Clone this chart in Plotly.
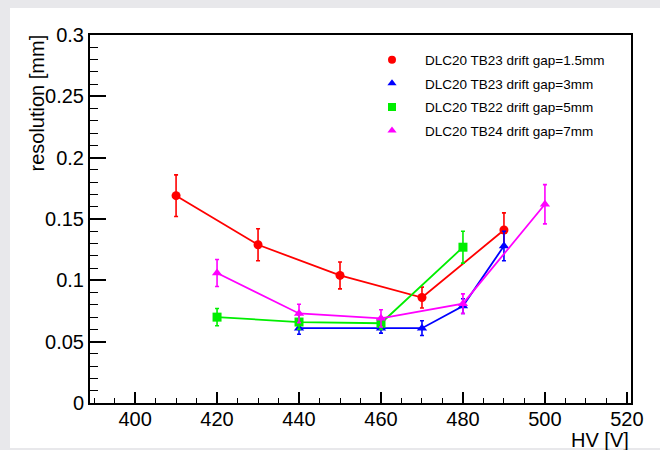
import plotly.graph_objects as go

# ---- data ----
hv_15 = [410, 430, 450, 470, 490]
res_15 = [0.169, 0.129, 0.104, 0.086, 0.141]
err_15 = [0.017, 0.013, 0.011, 0.0085, 0.014]

hv_3 = [440, 460, 470, 480, 490]
res_3 = [0.061, 0.061, 0.061, 0.079, 0.128]
err_3 = [0.005, 0.004, 0.006, 0.006, 0.012]

hv_5 = [420, 440, 460, 480]
res_5 = [0.070, 0.066, 0.065, 0.127]
err_5 = [0.007, 0.006, 0.005, 0.013]

hv_7 = [420, 440, 460, 480, 500]
res_7 = [0.106, 0.073, 0.069, 0.081, 0.162]
err_7 = [0.011, 0.0075, 0.007, 0.008, 0.016]

labels = ["DLC20 TB23 drift gap=1.5mm", "DLC20 TB23 drift gap=3mm",
          "DLC20 TB22 drift gap=5mm", "DLC20 TB24 drift gap=7mm"]

series = [
    (hv_15, res_15, err_15, "#ff0000", "circle"),
    (hv_3, res_3, err_3, "#0000ff", "triangle-up"),
    (hv_5, res_5, err_5, "#00ee00", "square"),
    (hv_7, res_7, err_7, "#ff00ff", "triangle-up"),
]

FONT = "Liberation Sans, Arial, Helvetica, sans-serif"

fig = go.Figure()
for (x, y, e, c, sym), lab in zip(series, labels):
    fig.add_trace(go.Scatter(
        x=x, y=y, mode="lines+markers", showlegend=False,
        line=dict(color=c, width=1.8),
        marker=dict(color=c, symbol=sym, size=9),
        error_y=dict(type="data", array=e, color=c, thickness=1.6, width=2),
    ))
for (x, y, e, c, sym), lab in zip(series, labels):
    fig.add_trace(go.Scatter(
        x=[None], y=[None], mode="markers", name=lab, legendgroup=lab,
        marker=dict(color=c, symbol=sym, size=8),
    ))

# plot area in pixels: x 90..631, y 35..403
L, R, T, B = 90, 631, 35, 403
W, H = R - L, B - T
def px(p): return (p - L) / W
def py(p): return (B - p) / H

fig.update_layout(
    width=660, height=450,
    margin=dict(l=L, r=660 - R, t=T, b=450 - B),
    paper_bgcolor="#e8e8eb", plot_bgcolor="white",
    font=dict(family=FONT, color="black"),
    showlegend=True,
    legend=dict(x=px(359), y=py(44.5), xanchor="left", yanchor="top",
                bgcolor="rgba(0,0,0,0)", font=dict(size=13.5, family=FONT),
                tracegroupgap=3, itemwidth=56),
    shapes=[dict(type="rect", xref="paper", yref="paper",
                 x0=px(10), x1=px(660), y0=py(448), y1=py(8),
                 fillcolor="white", line=dict(width=0), layer="below")],
    annotations=[
        dict(text="resolution [mm]", xref="paper", yref="paper",
             x=px(36), y=py(33), xanchor="center", yanchor="top",
             textangle=-90, showarrow=False, font=dict(size=20, family=FONT)),
        dict(text="HV [V]", xref="paper", yref="paper",
             x=1.0, y=py(440), xanchor="right", yanchor="middle",
             showarrow=False, font=dict(size=20, family=FONT)),
    ],
)
fig.update_xaxes(
    range=[389, 521], tickvals=[400, 420, 440, 460, 480, 500, 520],
    ticks="inside", ticklen=11, tickwidth=1.5, tickcolor="black",
    minor=dict(ticks="inside", ticklen=5, dtick=5, tick0=400, tickcolor="black", tickwidth=1.2),
    showline=True, linecolor="black", linewidth=2, mirror=True,
    showgrid=False, zeroline=False, tickfont=dict(size=20, family=FONT),
    ticklabelstandoff=-3,
)
fig.update_yaxes(
    range=[0, 0.3], tickvals=[0, 0.05, 0.1, 0.15, 0.2, 0.25, 0.3],
    ticktext=["0", "0.05", "0.1", "0.15", "0.2", "0.25", "0.3"],
    ticks="inside", ticklen=16, tickwidth=1.5, tickcolor="black",
    minor=dict(ticks="inside", ticklen=8, dtick=0.01, tick0=0, tickcolor="black", tickwidth=1.2),
    showline=True, linecolor="black", linewidth=2, mirror=True,
    showgrid=False, zeroline=False, tickfont=dict(size=20, family=FONT),
)

fig.write_html("out.html")
